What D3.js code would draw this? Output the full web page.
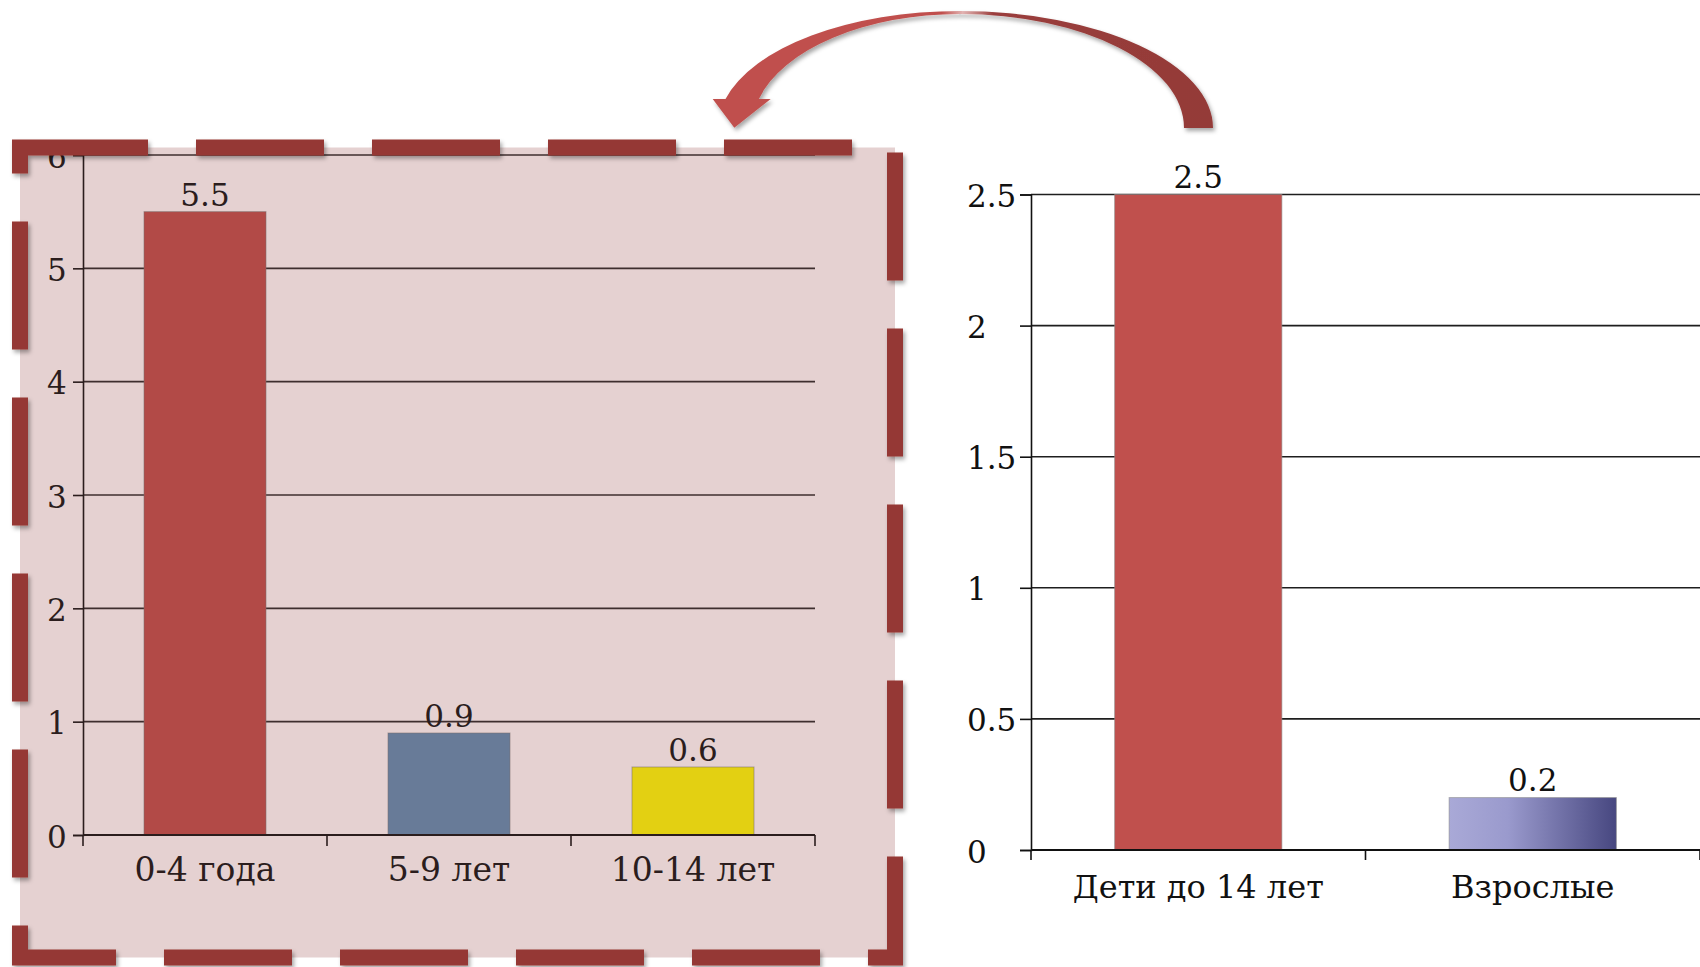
<!DOCTYPE html>
<html lang="ru">
<head>
<meta charset="utf-8">
<script src="https://cdn.jsdelivr.net/npm/d3@7"></script>
<style>
  html, body { margin: 0; padding: 0; background: #ffffff; }
  svg { display: block; }
  text { font-family: "DejaVu Serif", "Liberation Serif", serif; }
</style>
</head>
<body>
<svg id="chart" width="1700" height="967"></svg>
<script>
// Age breakdown (left panel)
const ageGroups = ["0-4 года", "5-9 лет", "10-14 лет"];
const ageValues = [5.5, 0.9, 0.6];
const ageColors = ["#b24a47", "#687b98", "#e3d012"];
const ageTicks = [0, 1, 2, 3, 4, 5, 6];

// Children vs adults (right panel)
const groups = ["Дети до 14 лет", "Взрослые"];
const groupValues = [2.5, 0.2];
const groupTicks = [0, 0.5, 1, 1.5, 2, 2.5];

const svg = d3.select("#chart");
const defs = svg.append("defs");

// soft shadow used by the dashed frame and the arrow
const shadow = defs.append("filter").attr("id", "shadow")
  .attr("x", "-10%").attr("y", "-10%").attr("width", "130%").attr("height", "140%");
shadow.append("feDropShadow").attr("dx", 2).attr("dy", 3)
  .attr("stdDeviation", 2.2).attr("flood-color", "#000").attr("flood-opacity", 0.35);

// blue gradient for the adults bar
const blueGrad = defs.append("linearGradient").attr("id", "blueGrad")
  .attr("x1", "0%").attr("x2", "100%").attr("y1", "0%").attr("y2", "0%");
blueGrad.append("stop").attr("offset", "0%").attr("stop-color", "#a9a9d7");
blueGrad.append("stop").attr("offset", "35%").attr("stop-color", "#9a9acd");
blueGrad.append("stop").attr("offset", "100%").attr("stop-color", "#474780");

// arrow gradient: lighter red on the left, darker on the right
const arrowGrad = defs.append("linearGradient").attr("id", "arrowGrad")
  .attr("gradientUnits", "userSpaceOnUse")
  .attr("x1", 700).attr("x2", 1215).attr("y1", 0).attr("y2", 0);
arrowGrad.append("stop").attr("offset", 0).attr("stop-color", "#c0504d");
arrowGrad.append("stop").attr("offset", 0.47).attr("stop-color", "#c0504d");
arrowGrad.append("stop").attr("offset", 0.51).attr("stop-color", "#e2b3b2");
arrowGrad.append("stop").attr("offset", 0.57).attr("stop-color", "#9a3e3c");
arrowGrad.append("stop").attr("offset", 1).attr("stop-color", "#943a38");

// ---------- left panel ----------
const frame = { x: 20, y: 147.5, w: 875, h: 810 };
svg.append("rect")
  .attr("x", frame.x).attr("y", frame.y)
  .attr("width", frame.w).attr("height", frame.h)
  .attr("fill", "#e5d1d1");

const L = { left: 83, right: 815, top: 155, bottom: 835, labelX: 47 };
const xL = d3.scaleBand().domain(ageGroups).range([L.left, L.right])
  .paddingInner(0.5).paddingOuter(0.25);
const yL = d3.scaleLinear().domain([0, 6]).range([L.bottom, L.top]);
const leftInk = "#2b1d1d";
const left = svg.append("g");

// gridlines
left.append("g").selectAll("line")
  .data(ageTicks.filter(d => d > 0))
  .join("line")
  .attr("x1", L.left).attr("x2", L.right)
  .attr("y1", d => yL(d)).attr("y2", d => yL(d))
  .attr("stroke", "#3e2e2e").attr("stroke-width", 1.6);

// y axis with left-aligned labels
const yAxisL = left.append("g").attr("transform", `translate(${L.left},0)`)
  .call(d3.axisLeft(yL).tickValues(ageTicks).tickSize(10).tickFormat(d3.format("")));
yAxisL.select(".domain").attr("stroke", leftInk).attr("stroke-width", 1.6);
yAxisL.selectAll(".tick line").attr("stroke", leftInk).attr("stroke-width", 1.6);
yAxisL.selectAll(".tick text")
  .attr("x", L.labelX - L.left).attr("dy", null).attr("y", 12)
  .attr("text-anchor", "start").attr("fill", leftInk)
  .style("font-size", "31px").style("font-family", "DejaVu Serif");

// bars
left.append("g").selectAll("rect")
  .data(ageGroups)
  .join("rect")
  .attr("x", d => xL(d)).attr("width", xL.bandwidth())
  .attr("y", (d, i) => yL(ageValues[i]))
  .attr("height", (d, i) => yL(0) - yL(ageValues[i]))
  .attr("fill", (d, i) => ageColors[i])
  .attr("stroke", "rgba(120,110,110,0.55)").attr("stroke-width", 1);

// x axis
left.append("line")
  .attr("x1", L.left).attr("x2", L.right).attr("y1", yL(0)).attr("y2", yL(0))
  .attr("stroke", leftInk).attr("stroke-width", 1.8);
left.append("g").selectAll("line")
  .data(d3.range(ageGroups.length + 1))
  .join("line")
  .attr("x1", i => xL.range()[0] + i * xL.step())
  .attr("x2", i => xL.range()[0] + i * xL.step())
  .attr("y1", yL(0)).attr("y2", yL(0) + 11)
  .attr("stroke", leftInk).attr("stroke-width", 1.6);
left.append("g").selectAll("text")
  .data(ageGroups)
  .join("text")
  .attr("x", d => xL(d) + xL.bandwidth() / 2)
  .attr("y", 881)
  .attr("text-anchor", "middle").attr("fill", leftInk)
  .style("font-size", "33px")
  .text(d => d);

// value labels
left.append("g").selectAll("text")
  .data(ageGroups)
  .join("text")
  .attr("x", d => xL(d) + xL.bandwidth() / 2)
  .attr("y", (d, i) => yL(ageValues[i]) - 6)
  .attr("text-anchor", "middle").attr("fill", leftInk)
  .style("font-size", "31px")
  .text((d, i) => ageValues[i]);

// dashed frame around the left panel
svg.append("rect")
  .attr("x", frame.x).attr("y", frame.y)
  .attr("width", frame.w).attr("height", frame.h)
  .attr("fill", "none").attr("stroke", "#953735")
  .attr("stroke-width", 16).attr("stroke-dasharray", "128 48")
  .attr("filter", "url(#shadow)");

// ---------- right panel ----------
const R = { left: 1031, right: 1700, top: 194.5, bottom: 850, labelX: 967 };
const xR = d3.scaleBand().domain(groups).range([R.left, R.right])
  .paddingInner(0.5).paddingOuter(0.25);
const yR = d3.scaleLinear().domain([0, 2.5]).range([R.bottom, R.top]);
const right = svg.append("g");

right.append("g").selectAll("line")
  .data(groupTicks.filter(d => d > 0))
  .join("line")
  .attr("x1", R.left).attr("x2", R.right)
  .attr("y1", d => yR(d)).attr("y2", d => yR(d))
  .attr("stroke", "#1e1e1e").attr("stroke-width", 1.6);

const yAxisR = right.append("g").attr("transform", `translate(${R.left},0)`)
  .call(d3.axisLeft(yR).tickValues(groupTicks).tickSize(11).tickFormat(d3.format("")));
yAxisR.select(".domain").attr("stroke", "#111").attr("stroke-width", 1.6);
yAxisR.selectAll(".tick line").attr("stroke", "#111").attr("stroke-width", 1.6);
yAxisR.selectAll(".tick text")
  .attr("x", R.labelX - R.left).attr("dy", null).attr("y", 12)
  .attr("text-anchor", "start").attr("fill", "#111")
  .style("font-size", "31px").style("font-family", "DejaVu Serif");

right.append("g").selectAll("rect")
  .data(groups)
  .join("rect")
  .attr("x", d => xR(d)).attr("width", xR.bandwidth())
  .attr("y", (d, i) => yR(groupValues[i]))
  .attr("height", (d, i) => yR(0) - yR(groupValues[i]))
  .attr("fill", (d, i) => i === 0 ? "#c0504d" : "url(#blueGrad)")
  .attr("stroke", "rgba(140,140,140,0.6)").attr("stroke-width", 1);

right.append("line")
  .attr("x1", R.left).attr("x2", R.right).attr("y1", yR(0)).attr("y2", yR(0))
  .attr("stroke", "#111").attr("stroke-width", 1.8);
right.append("g").selectAll("line")
  .data(d3.range(groups.length + 1))
  .join("line")
  .attr("x1", i => xR.range()[0] + i * xR.step())
  .attr("x2", i => xR.range()[0] + i * xR.step())
  .attr("y1", yR(0)).attr("y2", yR(0) + 10)
  .attr("stroke", "#111").attr("stroke-width", 1.6);
right.append("g").selectAll("text")
  .data(groups)
  .join("text")
  .attr("x", d => xR(d) + xR.bandwidth() / 2)
  .attr("y", 898)
  .attr("text-anchor", "middle").attr("fill", "#111")
  .style("font-size", "32px")
  .text(d => d);

right.append("g").selectAll("text")
  .data(groups)
  .join("text")
  .attr("x", d => xR(d) + xR.bandwidth() / 2)
  .attr("y", (d, i) => yR(groupValues[i]) - 7)
  .attr("text-anchor", "middle").attr("fill", "#111")
  .style("font-size", "31px")
  .text((d, i) => groupValues[i]);

// ---------- curved arrow from the right panel back to the left one ----------
const arrowPath = [
  "M 1213 128",
  "A 253 117 0 0 0 960 11",
  "A 242 117 0 0 0 725.5 99",
  "L 712.7 99",
  "L 734.3 127.7",
  "L 770.7 99",
  "L 758.9 99",
  "A 208 114 0 0 1 960 14",
  "A 224 114 0 0 1 1184 128",
  "Z"
].join(" ");
svg.append("path")
  .attr("d", arrowPath)
  .attr("fill", "url(#arrowGrad)")
  .attr("filter", "url(#shadow)");
</script>
</body>
</html>
